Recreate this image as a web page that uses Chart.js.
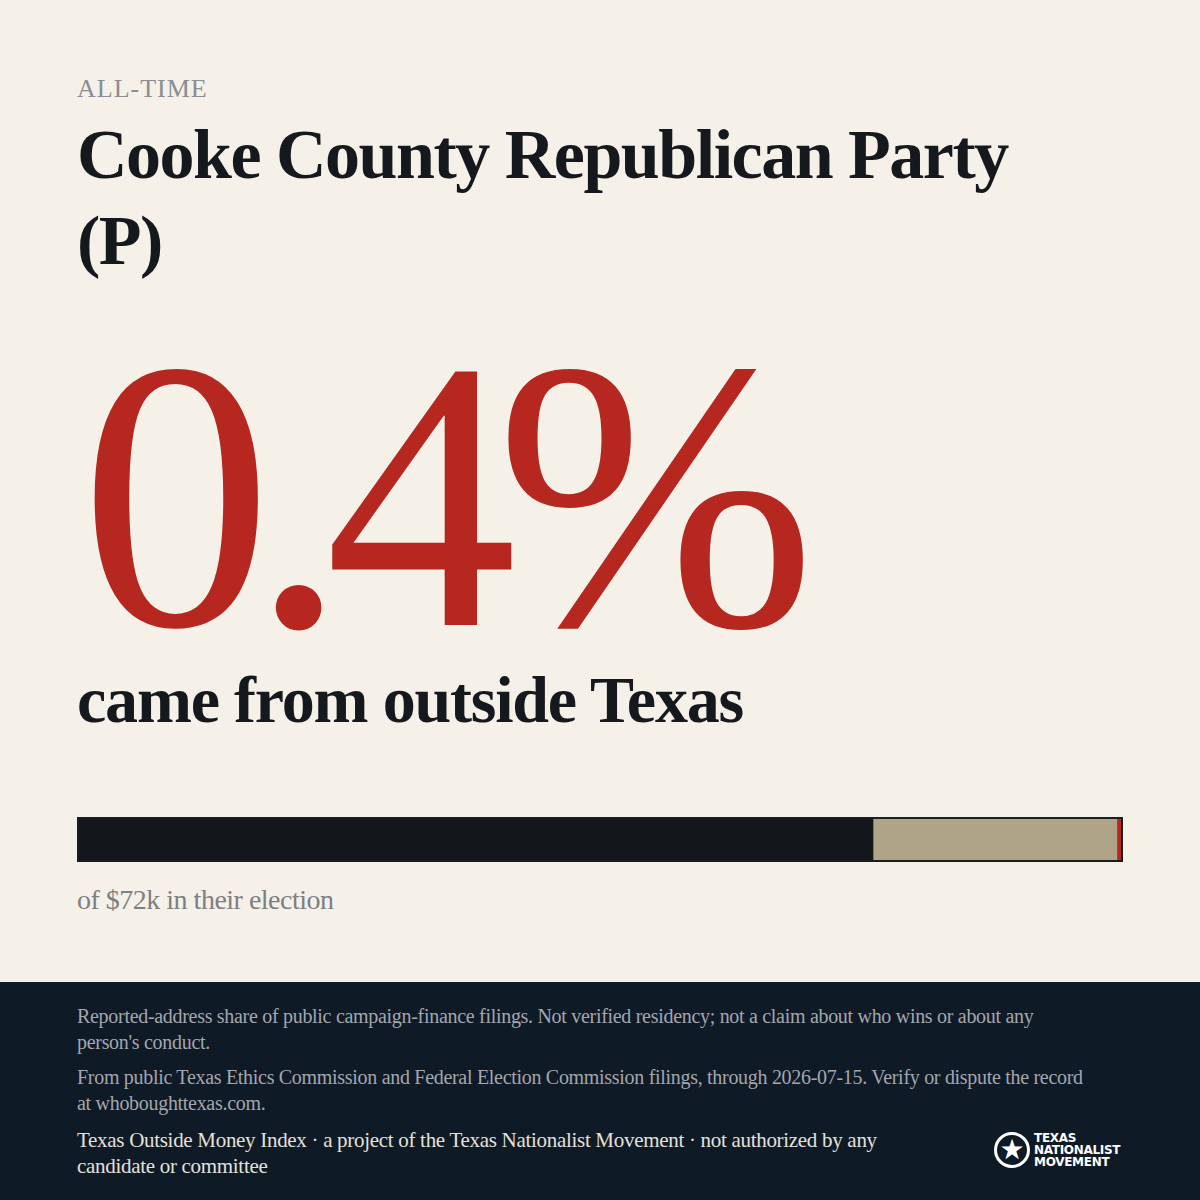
<!DOCTYPE html>
<html>
<head>
<meta charset="utf-8">
<script src="https://cdn.jsdelivr.net/npm/chart.js@4.4.1/dist/chart.umd.min.js"></script>
<style>
  html, body { margin: 0; padding: 0; }
  body { width: 1200px; height: 1200px; background: #f5f0e8; position: relative; overflow: hidden; font-family: "Liberation Serif", "DejaVu Serif", serif; color: #15181d; }
  .kicker { position: absolute; left: 77px; top: 74px; font-size: 26px; letter-spacing: 1px; color: #8a8d92; }
  .title { position: absolute; left: 77px; top: 112px; font-size: 70px; line-height: 86px; font-weight: bold; letter-spacing: -1.5px; width: 960px; }
  .big { position: absolute; left: 80px; top: 360px; height: 270px; font-size: 385px; line-height: 270px; color: #b5271f; letter-spacing: -22px; }
  .sub { position: absolute; left: 77px; top: 664px; font-size: 66px; line-height: 72px; font-weight: bold; letter-spacing: -1.2px; }
  .barbox { position: absolute; left: 77px; top: 817px; width: 1042px; height: 41px; border: 2px solid #1a1d22; }
  .of { position: absolute; left: 77px; top: 884px; font-size: 28px; color: #7c7f84; letter-spacing: -0.5px; }
  .foot { position: absolute; left: 0; top: 982px; width: 1200px; height: 218px; background: #0f1a27; }
  .fn { position: absolute; left: 77px; width: 1010px; font-size: 20px; line-height: 26px; color: #a3a7ad; letter-spacing: -0.3px; }
  .fn.last { color: #e4e1da; font-size: 21px; width: 870px; }
  .logo { position: absolute; left: 994px; top: 1132px; display: flex; align-items: center; color: #fff; font-family: "DejaVu Sans", sans-serif; font-weight: bold; }
  .logo .seal { width: 36px; height: 36px; border: 3px solid #fff; border-radius: 50%; box-sizing: border-box; display: flex; align-items: center; justify-content: center; font-size: 28px; line-height: 1; margin-right: 4px; }
  .logo .txt { font-size: 12px; line-height: 12px; letter-spacing: -0.3px; }
</style>
</head>
<body>
<div class="kicker">ALL-TIME</div>
<div class="title">Cooke County Republican Party (P)</div>
<div class="big">0.4%</div>
<div class="sub">came from outside Texas</div>
<div class="barbox"><canvas id="bar" width="1042" height="41"></canvas></div>
<div class="of">of $72k in their election</div>
<div class="foot"></div>
<div class="fn" style="top:1003px">Reported-address share of public campaign-finance filings. Not verified residency; not a claim about who wins or about any person's conduct.</div>
<div class="fn" style="top:1064px">From public Texas Ethics Commission and Federal Election Commission filings, through 2026-07-15. Verify or dispute the record at whoboughttexas.com.</div>
<div class="fn last" style="top:1127px">Texas Outside Money Index · a project of the Texas Nationalist Movement · not authorized by any candidate or committee</div>
<div class="logo"><div class="seal">★</div><div class="txt">TEXAS<br>NATIONALIST<br>MOVEMENT</div></div>
<script>
// share of dollars by reported address (percent)
const segmentLabels = ['In district', 'Elsewhere in Texas', 'Outside Texas'];
const segmentValues = [76.2, 23.4, 0.4];
const segmentColors = ['#13161b', '#afa487', '#b5271f'];

new Chart(document.getElementById('bar'), {
  type: 'bar',
  data: {
    labels: [''],
    datasets: segmentLabels.map((l, i) => ({
      label: l,
      data: [segmentValues[i]],
      backgroundColor: segmentColors[i],
      borderWidth: 0,
      barPercentage: 1,
      categoryPercentage: 1
    }))
  },
  options: {
    indexAxis: 'y',
    responsive: false,
    animation: false,
    layout: { padding: 0 },
    plugins: { legend: { display: false }, tooltip: { enabled: false } },
    scales: {
      x: { stacked: true, display: false, min: 0, max: 100 },
      y: { stacked: true, display: false }
    }
  }
});
</script>
</body>
</html>
